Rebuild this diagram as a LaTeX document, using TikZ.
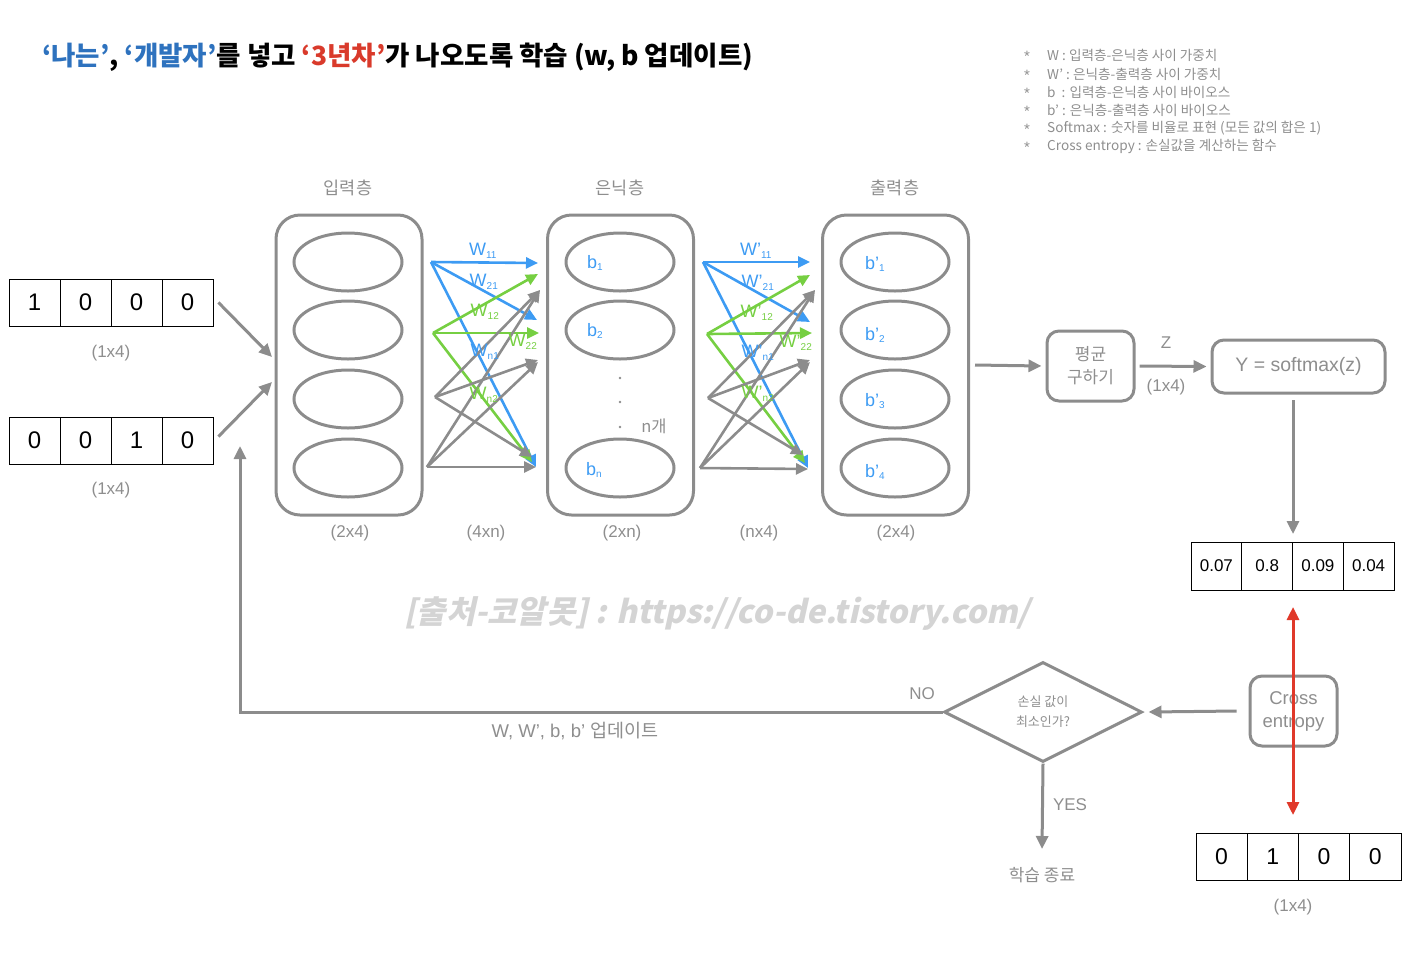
\documentclass[tikz,border=0pt]{standalone}
\usepackage{fontspec}
\setmainfont{Liberation Sans}
\newfontfamily\kr{Noto Sans CJK KR}
\newfontfamily\wmf{Noto Sans CJK KR}[FakeSlant=0.22]
\usetikzlibrary{arrows.meta,shapes.geometric}
\definecolor{lg}{HTML}{8C8C8C}
\definecolor{tg}{HTML}{8E8E8E}
\definecolor{wb}{HTML}{3D9BF3}
\definecolor{wg}{HTML}{76CF42}
\definecolor{rd}{HTML}{E0392A}
\definecolor{tb}{HTML}{2E72BE}
\definecolor{tr}{HTML}{D93A2B}
\definecolor{wmc}{HTML}{D4D4D4}
\tikzset{
  layer/.style={draw=lg, line width=3pt, rounded corners=24pt, minimum width=146pt, minimum height=300pt, inner sep=0},
  neuron/.style={ellipse, draw=lg, line width=3pt, minimum width=108pt, minimum height=58pt, inner sep=0},
  arr/.style={-{Triangle[length=13pt,width=12pt]}, line width=3pt},
  warr/.style={-{Triangle[length=12pt,width=11pt]}, line width=2.6pt},
  cell/.style={draw=black, line width=0.9pt, minimum width=51pt, minimum height=47pt, inner sep=0, font=\fontsize{24}{26}\selectfont},
  rcell/.style={draw=black, line width=0.9pt, minimum width=50.75pt, minimum height=48pt, inner sep=0, font=\fontsize{17}{19}\selectfont},
  gtxt/.style={text=tg, font=\fontsize{17}{19}\selectfont},
  ktxt/.style={text=tg, font=\kr\fontsize{17.5}{19}\selectfont},
  leg/.style={text=tg, anchor=west, inner sep=0, font=\kr\fontsize{13.6}{15}\selectfont},
  wl/.style={font=\fontsize{18}{20}\selectfont, inner sep=0},
  bl/.style={text=wb, anchor=west, inner sep=0, font=\fontsize{18}{20}\selectfont},
  rbox/.style={draw=lg, line width=3pt, rounded corners=12pt, inner sep=0, align=center},
}
\newcommand{\sbs}[1]{\textsubscript{\fontsize{10}{10}\selectfont #1}}
\begin{document}
\begin{tikzpicture}[x=1pt,y=-1pt]
\useasboundingbox (0,0) rectangle (1407,962);
% title
\node[anchor=west, inner sep=0, font=\kr\bfseries\fontsize{26.5}{29}\selectfont] (title) at (42,57)
  {\textcolor{tb}{‘나는’}, \textcolor{tb}{‘개발자’}를 넣고 \textcolor{tr}{‘3년차’}가 나오도록 학습 (w, b 업데이트)};
% legend
\foreach \y/\t [count=\i] in {55/W : 입력층-은닉층 사이 가중치, 74/W’ : 은닉층-출력층 사이 가중치, 92/b\ \ : 입력층-은닉층 사이 바이오스, 110/b’ : 은닉층-출력층 사이 바이오스, 128/Softmax : 숫자를 비율로 표현 (모든 값의 합은 1), 146/Cross entropy : 손실값을 계산하는 함수}{
  \node[leg, font=\fontsize{15}{15}\selectfont] (star\i) at (1024,\y+1) {*};
  \node[leg] (leg\i) at (1047,\y) {\t};
}
% layer labels
\node[ktxt] (lin) at (348,188) {입력층};
\node[ktxt] (lhid) at (620,188) {은닉층};
\node[ktxt] (lout) at (895,188) {출력층};
% layers
\node[layer] (inL) at (349,365) {};
\node[layer] (hidL) at (620.5,365) {};
\node[layer] (outL) at (895.5,365) {};
% neurons
\foreach \y [count=\i] in {262,330,399,468}{
  \node[neuron] (in\i) at (348,\y) {};
  \node[neuron] (out\i) at (895,\y) {};
}
\node[neuron] (h1) at (620,262) {};
\node[neuron] (h2) at (620,330) {};
\node[neuron] (hn) at (620,468) {};
\node[bl] (bh1) at (587,263) {b\sbs{1}};
\node[bl] (bh2) at (587,331) {b\sbs{2}};
\node[bl] (bhn) at (586,470) {b\sbs{n}};
\node[bl] (bo1) at (865,264) {b’\sbs{1}};
\node[bl] (bo2) at (865,335) {b’\sbs{2}};
\node[bl] (bo3) at (865,401) {b’\sbs{3}};
\node[bl] (bo4) at (865,472) {b’\sbs{4}};
\foreach \y [count=\i] in {378,402,427}{\fill[lg] (620,\y) circle (1.4pt) coordinate (dot\i);}
\node[gtxt, font=\kr\fontsize{16.5}{18}\selectfont] (ncnt) at (654,426) {n개};
% dimensions
\node[gtxt] (d1) at (350,533) {(2x4)};
\node[gtxt] (d2) at (486,533) {(4xn)};
\node[gtxt] (d3) at (622,533) {(2xn)};
\node[gtxt] (d4) at (759,533) {(nx4)};
\node[gtxt] (d5) at (896,533) {(2x4)};
% input vectors
\foreach \v [count=\i] in {1,0,0,0}{\node[cell] (va\i) at (9+51*\i-25.5,302.5) {\v};}
\foreach \v [count=\i] in {0,0,1,0}{\node[cell] (vb\i) at (9+51*\i-25.5,440.5) {\v};}
\node[gtxt] (dva) at (111,353) {(1x4)};
\node[gtxt] (dvb) at (111,490) {(1x4)};
\coordinate (ia) at (272,357);
\coordinate (ib) at (272,382);
\draw[arr, draw=lg] ([shift={(5,0)}]va4.east) -- (ia);
\draw[arr, draw=lg] ([shift={(5,-4)}]vb4.east) -- (ib);
% first weight set
\coordinate (s1) at (431,262); \coordinate (s2) at (433,333);
\coordinate (s3) at (435,397); \coordinate (s4) at (427,467);
\draw[warr, draw=wb] (s1) -- (538,263);
\draw[warr, draw=wb] (s1) -- (537,320);
\draw[warr, draw=wb] (s1) -- (536,467);
\draw[warr, draw=wg] (s2) -- (538,274);
\draw[warr, draw=wg] (s2) -- (539,333);
\draw[warr, draw=wg] (s2) -- (532,462);
\draw[warr, draw=lg] (s3) -- (540,290);
\draw[warr, draw=lg] (s3) -- (538,360);
\draw[warr, draw=lg] (s3) -- (532,457);
\draw[warr, draw=lg] (s4) -- (540,290);
\draw[warr, draw=lg] (s4) -- (538,362);
\draw[warr, draw=lg] (s4) -- (536,467);
\node[wl, text=wb] (w11) at (483,251) {W\sbs{11}};
\node[wl, text=wb] (w21) at (484,282) {W\sbs{21}};
\node[wl, text=wg] (w12) at (485,312) {W\sbs{12}};
\node[wl, text=wg] (w22) at (523,342) {W\sbs{22}};
\node[wl, text=wb] (wn1) at (485,352) {W\sbs{n1}};
\node[wl, text=wg] (wn2) at (484,395) {W\sbs{n2}};
% second weight set
\coordinate (t1) at (703,262); \coordinate (t2) at (707,334);
\coordinate (t3) at (708,398); \coordinate (t4) at (700,468);
\draw[warr, draw=wb] (t1) -- (810,262);
\draw[warr, draw=wb] (t1) -- (810,322);
\draw[warr, draw=wb] (t1) -- (808,468);
\draw[warr, draw=wg] (t2) -- (810,275);
\draw[warr, draw=wg] (t2) -- (812,333);
\draw[warr, draw=wg] (t2) -- (805,463);
\draw[warr, draw=lg] (t3) -- (815,290);
\draw[warr, draw=lg] (t3) -- (810,360);
\draw[warr, draw=lg] (t3) -- (803,455);
\draw[warr, draw=lg] (t4) -- (815,290);
\draw[warr, draw=lg] (t4) -- (810,362);
\draw[warr, draw=lg] (t4) -- (808,469);
\node[wl, text=wb] (v11) at (756,251) {W’\sbs{11}};
\node[wl, text=wb] (v21) at (758,283) {W’\sbs{21}};
\node[wl, text=wg] (v12) at (757,313) {W’\sbs{12}};
\node[wl, text=wg] (v22) at (796,343) {W’\sbs{22}};
\node[wl, text=wb] (vn1) at (758,353) {W’\sbs{n1}};
\node[wl, text=wg] (vn2) at (758,394) {W’\sbs{n2}};
% right part
\node[rbox, minimum width=87pt, minimum height=70pt, text=tg, font=\kr\fontsize{17}{23}\selectfont] (avg) at (1090.5,366) {평균\\구하기};
\node[rbox, minimum width=173pt, minimum height=53pt, text=tg, font=\fontsize{19.5}{21}\selectfont] (soft) at (1298.5,366.5) {Y = softmax(z)};
\draw[arr, draw=lg] ([xshift=5pt]outL.east) -- ([xshift=-4pt]avg.west);
\draw[arr, draw=lg] ([xshift=4pt]avg.east) -- ([xshift=-4pt]soft.west);
\node[gtxt] (zl) at (1166,343) {Z};
\node[gtxt] (zd) at (1166,387) {(1x4)};
% result vector
\foreach \v [count=\i] in {0.07,0.8,0.09,0.04}{\node[rcell] (r\i) at (1191+50.75*\i-25.375,566) {\v};}
\coordinate (sd1) at (1293,400);
\coordinate (sd2) at (1293,534);
\draw[arr, draw=lg] (sd1) -- (sd2);
% cross entropy
\node[rbox, minimum width=87pt, minimum height=70pt, text=tg, font=\fontsize{18.5}{23}\selectfont] (ce) at (1293.5,711) {Cross\\entropy};
% target vector
\foreach \v [count=\i] in {0,1,0,0}{\node[cell, minimum width=51.25pt, font=\fontsize{23}{24}\selectfont] (g\i) at (1196+51.25*\i-25.625,856.5) {\v};}
\node[gtxt] (gd) at (1293,907) {(1x4)};
\coordinate (ra) at (1293,607);
\coordinate (rb) at (1293,815);
\draw[{Triangle[length=13pt,width=12pt]}-{Triangle[length=13pt,width=12pt]}, line width=3pt, draw=rd] (ra) -- (rb);
% diamond
\node[diamond, draw=lg, line width=3pt, minimum width=198pt, minimum height=100pt, inner sep=0, text=tg, align=center, font=\kr\fontsize{13}{20}\selectfont] (dec) at (1043,712) {손실 값이\\최소인가?};
\draw[arr, draw=lg] ([xshift=-12pt]ce.west) -- ([xshift=5pt]dec.east);
\node[gtxt, font=\kr\fontsize{17}{19}\selectfont] (end) at (1042,875) {학습 종료};
\coordinate (yend) at (1042,849);
\draw[arr, draw=lg] (dec.south) -- (yend);
\node[gtxt] (yes) at (1070,805) {YES};
\coordinate (up) at (240,446);
\draw[arr, draw=lg] (dec.west) -- (240,712) -- (up);
\node[gtxt] (no) at (922,694) {NO};
\node[gtxt, font=\fontsize{18.5}{20}\selectfont] (upd) at (575,731) {W, W’, b, b’ {\kr 업데이트}};
% watermark
\node[text=wmc, font=\wmf\bfseries\fontsize{31.8}{33}\selectfont] (wm) at (717,614) {[출처-코알못] : https://co-de.tistory.com/};
\end{tikzpicture}
\end{document}
